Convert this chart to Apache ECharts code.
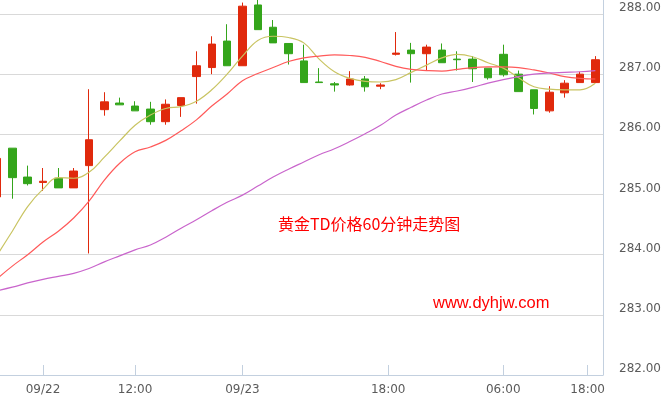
<!DOCTYPE html>
<html>
<head>
<meta charset="utf-8">
<script src="https://cdn.jsdelivr.net/npm/echarts@6/dist/echarts.min.js"></script>
<style>
html,body{margin:0;padding:0;background:#fff;}
#chart{width:670px;height:400px;}
</style>
</head>
<body>
<div id="chart"></div>
<script>
// candle times (60-minute bars)
const categories = [
 '09/21 21:00','09/21 22:00','09/21 23:00','09/22 00:00','09/22 01:00','09/22 02:00','09/22 09:00','09/22 10:00',
 '09/22 11:00','09/22 13:30','09/22 14:30','09/22 15:00','09/22 20:00','09/22 21:00','09/22 22:00','09/22 23:00',
 '09/23 00:00','09/23 01:00','09/23 02:00','09/23 09:00','09/23 10:00','09/23 11:00','09/23 13:30','09/23 14:30',
 '09/23 15:00','09/23 20:00','09/23 21:00','09/23 22:00','09/23 23:00','09/24 00:00','09/24 01:00','09/24 02:00',
 '09/24 09:00','09/24 10:00','09/24 11:00','09/24 13:30','09/24 14:30','09/24 15:00','09/24 20:00','09/24 21:00'
];
const openP  = [284.96,285.77,285.29,285.20,285.27,285.11,285.48,286.41,286.52,286.47,286.42,286.21,286.48,286.96,287.11,287.55,287.14,288.15,287.78,287.51,287.22,286.87,286.84,286.82,286.92,286.80,287.33,287.40,287.34,287.40,287.25,287.25,287.10,287.33,287.00,286.74,286.39,286.69,286.86,286.86];
const closeP = [285.60,285.28,285.18,285.22,285.11,285.39,285.91,286.54,286.49,286.39,286.21,286.50,286.61,287.14,287.50,287.14,288.13,287.74,287.52,287.34,286.86,286.86,286.82,286.92,286.79,286.82,287.35,287.34,287.45,287.19,287.24,287.09,286.94,286.99,286.71,286.43,286.70,286.85,287.00,287.24];
const lowP   = [284.90,284.93,285.15,285.06,285.11,285.11,284.02,286.31,286.49,286.39,286.16,286.16,286.29,286.51,287.00,287.14,287.14,287.74,287.52,287.16,286.86,286.86,286.71,286.81,286.71,286.75,287.31,286.86,287.06,287.19,287.06,286.87,286.91,286.96,286.71,286.33,286.36,286.61,286.86,286.86];
const highP  = [285.66,285.77,285.48,285.44,285.44,285.44,286.75,286.70,286.61,286.55,286.54,286.58,286.61,287.38,287.63,287.83,288.19,288.25,287.90,287.51,287.49,287.10,286.87,287.05,286.97,286.85,287.70,287.52,287.49,287.51,287.38,287.30,287.10,287.49,287.06,286.74,286.80,286.90,287.04,287.30];
// moving averages
const ma5  = [283.99,284.39,284.80,285.09,285.28,285.27,285.37,285.62,285.89,286.15,286.32,286.43,286.46,286.55,286.74,287.00,287.30,287.56,287.63,287.61,287.52,287.25,287.04,286.93,286.88,286.87,286.91,287.03,287.15,287.27,287.33,287.29,287.19,287.10,286.94,286.79,286.75,286.74,286.74,286.85];
const ma10 = [283.60,283.81,284.00,284.21,284.39,284.61,284.89,285.24,285.52,285.71,285.79,285.90,286.06,286.24,286.47,286.67,286.89,287.01,287.11,287.21,287.27,287.30,287.32,287.31,287.28,287.21,287.13,287.08,287.06,287.05,287.08,287.11,287.12,287.12,287.11,287.07,287.02,286.96,286.93,286.92];
const ma20 = [283.40,283.46,283.53,283.59,283.64,283.69,283.77,283.88,283.98,284.08,284.16,284.29,284.44,284.58,284.73,284.87,284.99,285.14,285.29,285.42,285.54,285.66,285.76,285.88,286.01,286.15,286.32,286.45,286.57,286.67,286.72,286.78,286.85,286.91,286.96,287.00,287.02,287.03,287.04,287.06];
// x tick labels and the candle index they sit at
const tickLabels = ['09/22','12:00','09/23','18:00','06:00','18:00'];
const tickAt     = [3, 9, 16, 25.5, 33, 38.5];
// y tick range
const yMin = 282, yMax = 288, yStep = 1;

const candles = categories.map((c, i) => [openP[i], closeP[i], lowP[i], highP[i]]);
const halfSteps = new Array(categories.length * 2 + 1).fill('');
tickAt.forEach((at, k) => { halfSteps[Math.round(at * 2 + 1)] = tickLabels[k]; });

const axisColor = '#c3d0df';
const chart = echarts.init(document.getElementById('chart'), null, {renderer: 'canvas'});
chart.setOption({
  animation: false,
  backgroundColor: '#ffffff',
  grid: {left: -10.7, right: 67, top: 0, bottom: 25, containLabel: false, outerBoundsMode: 'none'},
  xAxis: [{
    type: 'category', data: categories, boundaryGap: true,
    axisLine: {show: true, lineStyle: {color: axisColor, width: 1}},
    axisTick: {show: false}, axisLabel: {show: false}, splitLine: {show: false}
  }, {
    type: 'category', data: halfSteps, boundaryGap: false, position: 'bottom',
    axisLine: {show: false},
    axisTick: {show: true, inside: true, length: 10, lineStyle: {color: axisColor},
      interval: (i, v) => v !== ''},
    axisLabel: {show: true, interval: (i, v) => v !== '', color: '#5b5b5b', fontSize: 12,
      fontFamily: 'DejaVu Sans', margin: 9},
    splitLine: {show: false}
  }],
  yAxis: {
    type: 'value', position: 'right', scale: true,
    min: yMin, max: yMax + 14 / 60.17, interval: yStep,
    axisLine: {show: true, lineStyle: {color: axisColor, width: 1}},
    axisTick: {show: false},
    axisLabel: {color: '#5b5b5b', fontSize: 12, fontFamily: 'DejaVu Sans', margin: 16,
      verticalAlign: 'bottom', showMaxLabel: false,
      formatter: v => (Math.abs(v - Math.round(v)) < 1e-6 && v <= yMax) ? v.toFixed(2) : ''},
    splitLine: {show: true, showMaxLine: false, lineStyle: {color: '#d9d9d9', width: 1}}
  },
  series: [{
    type: 'candlestick', data: candles, barWidth: 8, clip: true,
    itemStyle: {color: '#e0290c', color0: '#34a51b', borderColor: '#e0290c', borderColor0: '#34a51b', borderWidth: 1}
  }, {
    type: 'line', data: ma5, smooth: 0.4, symbol: 'none',
    lineStyle: {color: '#c9c462', width: 1.2}
  }, {
    type: 'line', data: ma10, smooth: 0.4, symbol: 'none',
    lineStyle: {color: '#ff5a5a', width: 1.2}
  }, {
    type: 'line', data: ma20, smooth: 0.4, symbol: 'none',
    lineStyle: {color: '#c965cc', width: 1.2}
  }],
  graphic: [{
    type: 'text', left: 278, top: 216,
    style: {text: '黄金TD价格60分钟走势图', fill: '#ff0000', font: '16px "Noto Sans CJK SC"'}
  }, {
    type: 'text', left: 433, top: 295,
    style: {text: 'www.dyhjw.com', fill: '#ff0000', font: '16.5px "Liberation Sans"'}
  }]
});
</script>
</body>
</html>
